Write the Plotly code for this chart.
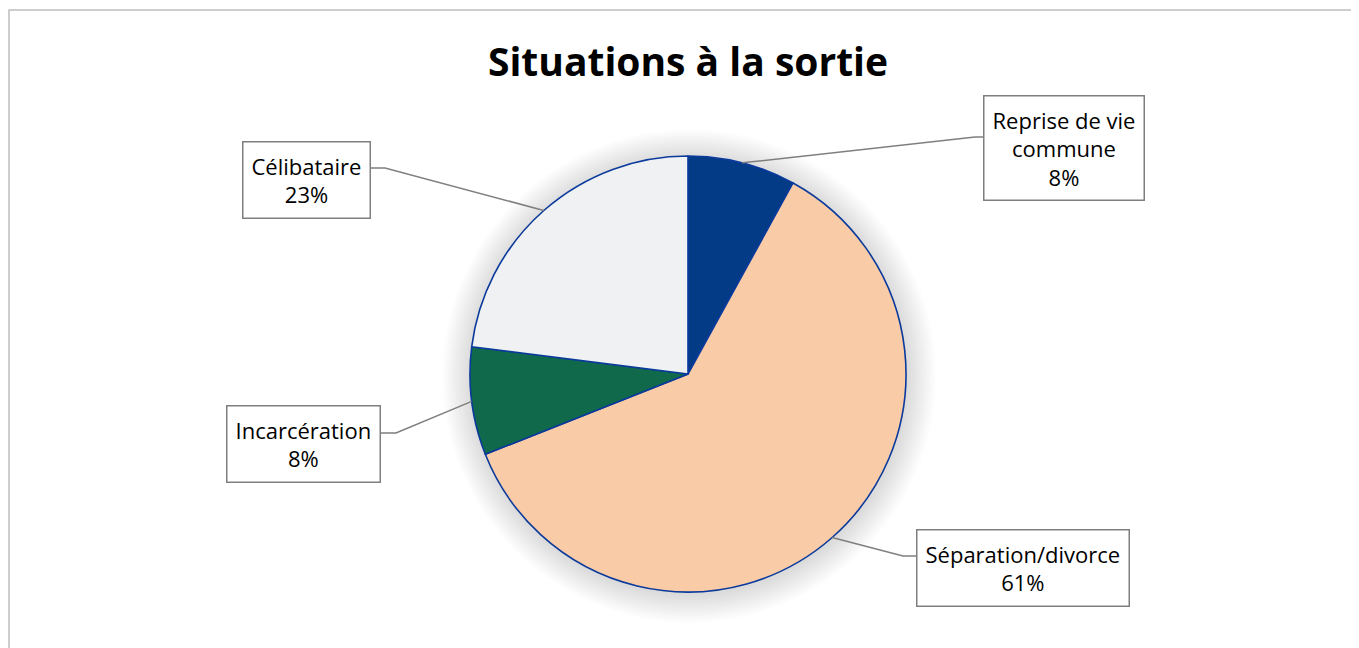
import math
import plotly.graph_objects as go

categories = ["Reprise de vie commune", "Séparation/divorce", "Incarcération", "Célibataire"]
label_text = ["Reprise de vie<br>commune<br>8%", "Séparation/divorce<br>61%", "Incarcération<br>8%", "Célibataire<br>23%"]
values = [8, 61, 8, 23]
colors = ["#043B86", "#F9CBA7", "#10694A", "#EFF1F2"]

W, H = 1359, 648
OFF = 8  # page body margin
CX, CY, R = 688, 374, 218

# label box centres (pixel) and elbow points of the leader lines
label_pos = [(1064, 148), (1023, 568), (303, 444), (306, 180)]
elbow = [(975, 137), (903, 556), (396, 433), (385, 168)]


def px(x):
    return (x - OFF) / W


def py(y):
    return 1 - (y - OFF) / H


fig = go.Figure()
fig.add_trace(go.Pie(
    labels=categories, values=values, sort=False, direction="clockwise",
    rotation=0, marker=dict(colors=colors, line=dict(color="#0A3A9C", width=1.6)),
    textinfo="none", hoverinfo="label+percent", showlegend=False,
    domain=dict(x=[px(CX - R), px(CX + R)], y=[py(CY + R), py(CY - R)]),
))

shapes = []
# soft shadow around the pie
for k in range(18, 0, -1):
    rr = R + k * 1.6
    shapes.append(dict(type="circle", xref="paper", yref="paper", layer="below",
                       x0=px(CX - rr + 1), x1=px(CX + rr + 1),
                       y0=py(CY + rr + 2), y1=py(CY - rr + 2),
                       fillcolor="rgba(0,0,0,0.009)", line=dict(width=0)))
# outer frame
shapes.append(dict(type="rect", xref="paper", yref="paper", x0=px(9), x1=px(1385),
                   y0=py(680), y1=py(10), line=dict(color="#BFBFBF", width=1.5)))

# leader lines computed from slice mid-angles (they run under the label boxes)
total = sum(values)
cum = 0
for i, v in enumerate(values):
    mid = (cum + v / 2) / total * 2 * math.pi
    cum += v
    sx = CX + R * math.sin(mid)
    sy = CY - R * math.cos(mid)
    ex, ey = elbow[i]
    bx = label_pos[i][0]
    path = f"M {px(sx)},{py(sy)} L {px(ex)},{py(ey)} L {px(bx)},{py(ey)}"
    shapes.append(dict(type="path", xref="paper", yref="paper", path=path,
                       line=dict(color="#7F7F7F", width=1.5)))

annotations = []
for i, t in enumerate(label_text):
    x, y = label_pos[i]
    annotations.append(dict(text=t, x=px(x), y=py(y), xref="paper", yref="paper",
                            showarrow=False, xanchor="center", yanchor="middle",
                            font=dict(family="Open Sans", size=22, color="#000000"),
                            bordercolor="#7F7F7F", borderwidth=1.5, borderpad=8,
                            bgcolor="white", align="center"))

fig.update_layout(
    width=W, height=H, margin=dict(l=0, r=0, t=0, b=0),
    paper_bgcolor="white", plot_bgcolor="white",
    title=dict(text="<b>Situations à la sortie</b>", x=px(688), xanchor="center",
               y=py(62), yanchor="middle",
               font=dict(family="Open Sans", size=39, color="#000000")),
    shapes=shapes, annotations=annotations,
)

fig.write_html("out.html")
